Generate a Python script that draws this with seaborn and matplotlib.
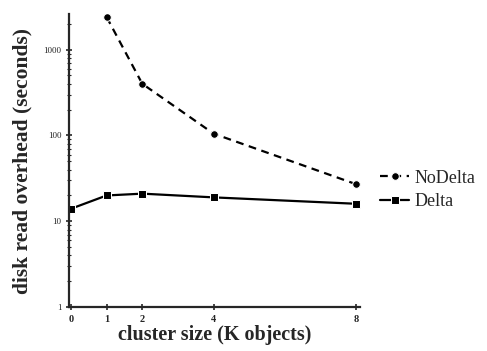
import numpy as np
import pandas as pd
import seaborn as sns
import matplotlib.pyplot as plt
from matplotlib.ticker import FixedLocator, LogLocator, NullFormatter

# values
cluster_k = [0, 1, 2, 4, 8]
nodelta_x = [1, 2, 4, 8]
nodelta_y = [2400, 400, 105, 27]
delta_x = [0, 1, 2, 4, 8]
delta_y = [14, 20, 21, 19, 16]
y_ticks = [1, 10, 100, 1000]

df = pd.concat([
    pd.DataFrame({"x": nodelta_x, "y": nodelta_y, "series": "NoDelta"}),
    pd.DataFrame({"x": delta_x, "y": delta_y, "series": "Delta"}),
])

sns.set_style("ticks")
plt.rcParams["font.family"] = ["Liberation Serif", "DejaVu Serif"]

fig = plt.figure(figsize=(4.87, 3.51), dpi=100)
ax = fig.add_axes([0.142, 0.125, 0.597, 0.835])

sns.lineplot(data=df, x="x", y="y", hue="series", style="series",
             palette={"NoDelta": "black", "Delta": "black"},
             markers={"NoDelta": "o", "Delta": "s"},
             dashes={"NoDelta": (3.5, 2.5), "Delta": ""},
             markersize=5.5, linewidth=1.6, ax=ax)

ax.set_yscale("log")
ax.set_ylim(1, 2600)
ax.set_xlim(-0.05, 8.1)
ax.set_xticks(cluster_k)
ax.set_xticklabels([str(v) for v in cluster_k], fontsize=7.5, fontweight="bold")
ax.yaxis.set_major_locator(FixedLocator(y_ticks))
ax.set_yticklabels([str(v) for v in y_ticks], fontsize=6.5)
ax.yaxis.set_minor_locator(LogLocator(base=10, subs=np.arange(2, 10)))
ax.yaxis.set_minor_formatter(NullFormatter())
ax.tick_params(axis="both", which="major", length=5, width=1.2, direction="inout", pad=3)
ax.tick_params(axis="y", which="minor", length=3, width=0.8, direction="inout")

for s in ["top", "right"]:
    ax.spines[s].set_visible(False)
for s in ["left", "bottom"]:
    ax.spines[s].set_linewidth(1.6)

ax.set_xlabel("cluster size (K objects)", fontsize=14.5, fontweight="bold", labelpad=1)
ax.set_ylabel("disk read overhead (seconds)", fontsize=15.5, fontweight="bold", labelpad=8)

leg = ax.legend(loc="center left", bbox_to_anchor=(1.07, 0.40), frameon=False,
                borderaxespad=0, borderpad=0,
                fontsize=13, handlelength=1.6, handletextpad=0.3, labelspacing=0.35)

fig.savefig("out.png", dpi=100)
